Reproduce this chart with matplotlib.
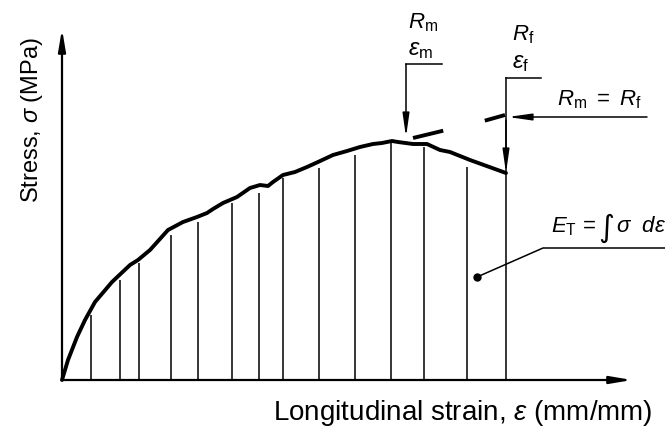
import matplotlib
matplotlib.use("Agg")
import matplotlib.pyplot as plt
import numpy as np

plt.rcParams['font.family'] = ['Liberation Sans', 'DejaVu Sans']
plt.rcParams['mathtext.fontset'] = 'custom'
plt.rcParams['mathtext.rm'] = 'Liberation Sans'
plt.rcParams['mathtext.it'] = 'Liberation Sans:italic'

# stress-strain curve (arbitrary units)
strain = [0, 6, 15, 23, 33, 50, 68, 76, 88, 106, 121, 135, 145, 151, 161, 175,
          188, 198, 206, 211, 221, 233, 245, 256, 271, 285, 298, 311, 320, 330,
          336, 351, 365, 378, 388, 408, 444]
stress = [0, 20, 43, 60, 78, 98, 115, 120, 130, 150, 158, 163, 167, 171, 177, 183,
          192, 195, 194, 198, 205, 208, 213, 218, 225, 229, 233, 236, 237, 239,
          238, 236, 236, 230, 228, 220, 207]

# hatching under the curve
hatch_x = [29, 58, 77, 109, 136, 170, 197, 221, 257, 293, 329, 362, 405]
hatch_top = [65, 100, 117, 145, 158, 177, 187, 202, 212, 225, 237, 233, 213]

# dashed "Rm = Rf" extension beyond the peak
ext_x = [351, 380, 411, 443]
ext_y = [242, 249, 256, 265]

eps_max, eps_f = 344, 444
R_max_tip, R_f_tip = 243, 207

fig = plt.figure(figsize=(6.65, 4.28), dpi=100)
ax = fig.add_axes([0, 0, 1, 1])
ax.set_xlim(-62, 603)
ax.set_ylim(-48, 380)
ax.axis('off')

lw_thin = 1.1
# axes with arrows
ax.annotate('', xy=(0, 351), xytext=(0, 0),
            arrowprops=dict(arrowstyle='-|>,head_length=1.3,head_width=0.22',
                            lw=1.6, color='black', shrinkA=0, shrinkB=0))
ax.annotate('', xy=(570, 0), xytext=(0, 0),
            arrowprops=dict(arrowstyle='-|>,head_length=1.3,head_width=0.22',
                            lw=1.6, color='black', shrinkA=0, shrinkB=0))

ax.vlines(hatch_x, 0, hatch_top, colors='black', lw=lw_thin)
ax.plot(strain, stress, color='black', lw=2.8, solid_capstyle='round',
        solid_joinstyle='round')
ax.plot(ext_x, ext_y, color='black', lw=2.8, dashes=(8, 11))

# Rm / eps_m leader
ax.plot([eps_max, eps_max + 36], [316, 316], color='black', lw=lw_thin)
ax.annotate('', xy=(eps_max, R_max_tip), xytext=(eps_max, 316),
            arrowprops=dict(arrowstyle='-|>,head_length=1.4,head_width=0.2',
                            lw=lw_thin, color='black', shrinkA=0, shrinkB=0))
ax.text(eps_max + 2, 352, r'$R_\mathrm{m}$', fontsize=16, ha='left', va='baseline')
ax.text(eps_max + 2, 325, r'$\varepsilon_\mathrm{m}$', fontsize=17, ha='left', va='baseline')

# Rf / eps_f leader
ax.plot([eps_f, eps_f + 35], [302, 302], color='black', lw=lw_thin)
ax.plot([eps_f, eps_f], [0, 302], color='black', lw=lw_thin)
ax.annotate('', xy=(eps_f, R_f_tip), xytext=(eps_f, 260),
            arrowprops=dict(arrowstyle='-|>,head_length=1.4,head_width=0.2',
                            lw=lw_thin, color='black', shrinkA=0, shrinkB=0))
ax.text(eps_f + 6, 340, r'$R_\mathrm{f}$', fontsize=16, ha='left', va='baseline')
ax.text(eps_f + 6, 312, r'$\varepsilon_\mathrm{f}$', fontsize=17, ha='left', va='baseline')

# Rm = Rf arrow
ax.annotate('', xy=(446, 263), xytext=(585, 263),
            arrowprops=dict(arrowstyle='-|>,head_length=1.4,head_width=0.2',
                            lw=lw_thin, color='black', shrinkA=0, shrinkB=0))
ax.text(495, 275, r'$R_\mathrm{m}\ =\ R_\mathrm{f}$', fontsize=16, ha='left', va='baseline')

# energy leader
ax.plot([415, 481, 603], [103, 132, 132], color='black', lw=lw_thin)
ax.plot([415], [103], 'o', color='black', ms=5)
ax.text(489, 148, r'$E_\mathrm{T}$ =', fontsize=16, ha='left', va='baseline')
ax.text(536, 143, '\u222b', fontsize=22, ha='left', va='baseline',
        family=['DejaVu Sans'])
ax.text(554, 148, r'$\sigma\ \ d\varepsilon$', fontsize=16, ha='left', va='baseline')

ax.text(-30, 260, r'Stress, $\sigma$ (MPa)', fontsize=17, rotation=90,
        ha='center', va='center')
ax.text(591, -33, r'Longitudinal strain, $\varepsilon$ (mm/mm)', fontsize=20,
        ha='right', va='center')

fig.savefig('out.png', dpi=100)
